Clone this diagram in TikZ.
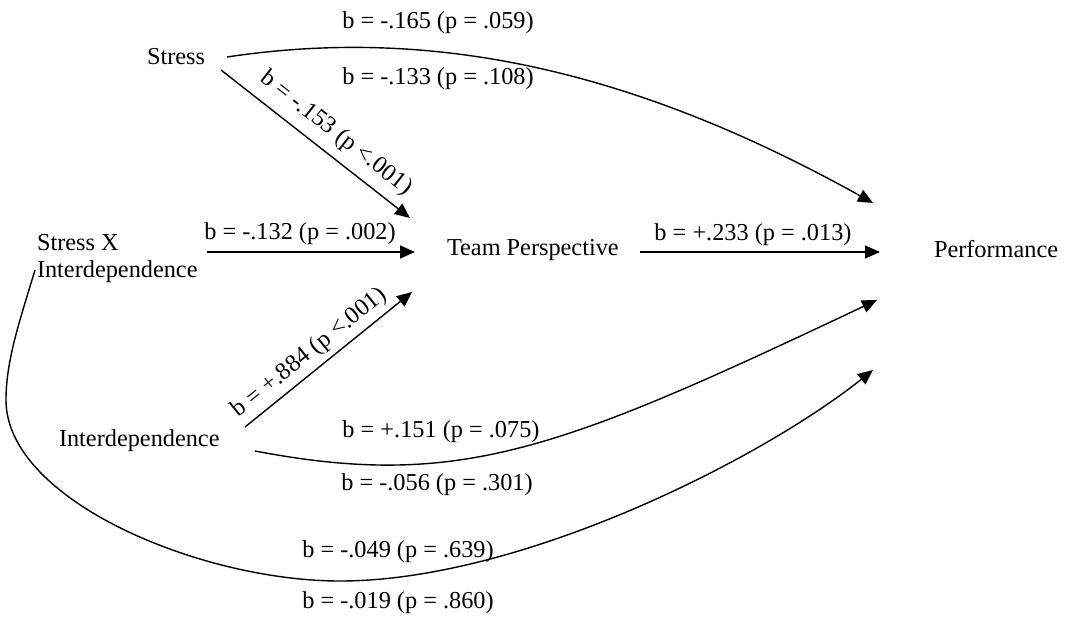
\documentclass[tikz,border=0pt]{standalone}
\usepackage{fontspec}
\setmainfont{Liberation Serif}
\usetikzlibrary{arrows.meta,calc}
\begin{document}
\begin{tikzpicture}[x=1pt,y=-1pt,
  lbl/.style={inner sep=0pt, outer sep=0pt, font=\fontsize{24.3}{27}\selectfont},
  conn/.style={line width=1.4pt, -{Triangle[length=15pt,width=13pt]}}]
\useasboundingbox (0,0) rectangle (1071,616);
% variables
\node[lbl, anchor=base west] (stress) at (147,64) {Stress};
\node[lbl, anchor=north west, align=left] (sxi) at (37,234) {Stress X\\Interdependence};
\node[lbl, anchor=base west] (inter) at (59,446) {Interdependence};
\node[lbl, anchor=base west] (tp) at (447,255) {Team Perspective};
\node[lbl, anchor=base west] (perf) at (934,257) {Performance};
% connectors
\draw[conn] ($(stress.base west)+(80,-7)$) .. controls (420,28) and (620,62) .. ($(perf.base west)+(-61,-54)$);
\draw[conn] ($(stress.base west)+(74,6)$) -- ($(tp.base west)+(-37,-37)$)
  node[lbl, sloped, pos=0.54, above=10pt] (l9) {b = -.153 (p <.001)};
\draw[conn] ($(sxi.north west)+(170,18)$) -- ($(tp.base west)+(-32,-3)$);
\draw[conn] ($(inter.base west)+(186,-19)$) -- ($(tp.base west)+(-35,37)$)
  node[lbl, sloped, pos=0.45, above=6pt] (l10) {b = +.884 (p <.001)};
\draw[conn] ($(tp.base west)+(193,-3)$) -- ($(perf.base west)+(-54,-5)$);
\draw[conn] ($(inter.base west)+(196,5)$) .. controls (460,490) and (560,450) .. ($(perf.base west)+(-57,43)$);
\draw[conn] ($(sxi.north west)+(-2,36)$) .. controls (20,320) and (6,360) .. (6,400)
  .. controls (6,500) and (200,581) .. (340,581)
  .. controls (520,581) and (760,460) .. ($(perf.base west)+(-61,113)$);
% coefficient labels
\node[lbl, anchor=base] (l1) at (438,28) {b = -.165 (p = .059)};
\node[lbl, anchor=base] (l2) at (438,84) {b = -.133 (p = .108)};
\node[lbl, anchor=base] (l3) at (300,239) {b = -.132 (p = .002)};
\node[lbl, anchor=base] (l4) at (753,240) {b = +.233 (p = .013)};
\node[lbl, anchor=base] (l5) at (441,437) {b = +.151 (p = .075)};
\node[lbl, anchor=base] (l6) at (437,490) {b = -.056 (p = .301)};
\node[lbl, anchor=base] (l7) at (398,557) {b = -.049 (p = .639)};
\node[lbl, anchor=base] (l8) at (398,608) {b = -.019 (p = .860)};
\end{tikzpicture}
\end{document}
